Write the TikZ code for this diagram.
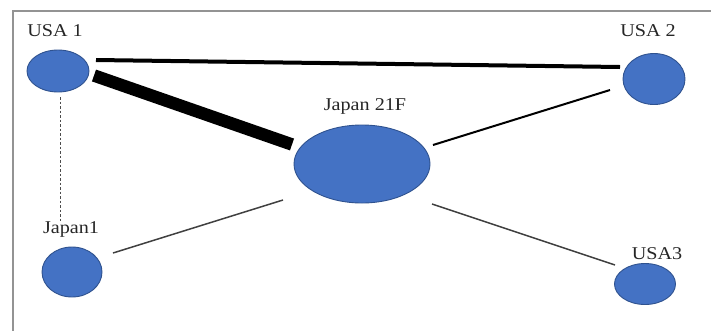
\documentclass[tikz,border=0pt]{standalone}
\usepackage{fontspec}
\setmainfont{Liberation Serif}
\usetikzlibrary{shapes.geometric,calc}
\definecolor{nodefill}{HTML}{4472C4}
\definecolor{nodeedge}{HTML}{2F528F}
\definecolor{labeltext}{HTML}{262626}
\newcommand{\widelabel}[1]{\scalebox{1.12}[1]{#1}}
\tikzset{
  site/.style={ellipse, fill=nodefill, draw=nodeedge, line width=0.9pt, inner sep=0pt},
  sitelabel/.style={text=labeltext, font=\fontsize{18}{20}\selectfont, inner sep=0pt},
  link/.style={line cap=butt, draw=black},
}
\begin{document}
\begin{tikzpicture}[x=1pt,y=-1pt]
  \useasboundingbox (0,0) rectangle (711,330);
  % outer frame, open at the right and bottom
  \draw[draw=gray!85, line width=1.8pt] (13,340) -- (13,11) -- (720,11);

  % sites
  \node[site, minimum width=62pt, minimum height=42pt] (usa1) at (58,71) {};
  \node[site, minimum width=62pt, minimum height=51pt] (usa2) at (654,79) {};
  \node[site, minimum width=136pt, minimum height=78pt] (jp21) at (362,164) {};
  \node[site, minimum width=60pt, minimum height=50pt] (jp1) at (72,272) {};
  \node[site, minimum width=61pt, minimum height=41pt] (usa3) at (645,284) {};

  % labels
  \node[sitelabel] (lusa1) at (55,31) {\widelabel{USA 1}};
  \node[sitelabel] (lusa2) at (648,31) {\widelabel{USA 2}};
  \node[sitelabel] (ljp21) at (365,106) {\widelabel{Japan 21F}};
  \node[sitelabel] (ljp1) at (71,229) {\widelabel{Japan1}};
  \node[sitelabel] (lusa3) at (657,254) {\widelabel{USA3}};

  % links
  \draw[link, line width=4pt] ($(usa1)+(38,-11)$) -- ($(usa2)+(-34,-12)$);
  \draw[link, line width=12.5pt] ($(usa1)+(36,4.5)$) -- ($(jp21)+(-70,-19.5)$);
  \draw[link, line width=2pt] ($(jp21)+(71,-19)$) -- ($(usa2)+(-44,11)$);
  \draw[link, draw=black!75, line width=1.5pt] ($(jp21)+(-79,36)$) -- ($(jp1)+(41,-19)$);
  \draw[link, draw=black!75, line width=1.5pt] ($(jp21)+(70,40)$) -- ($(usa3)+(-30,-19)$);
  \draw[link, draw=black!70, line width=1pt, dash pattern=on 2.5pt off 2pt] ($(usa1)+(2,26)$) -- ($(jp1)+(-12,-50)$);
\end{tikzpicture}
\end{document}
